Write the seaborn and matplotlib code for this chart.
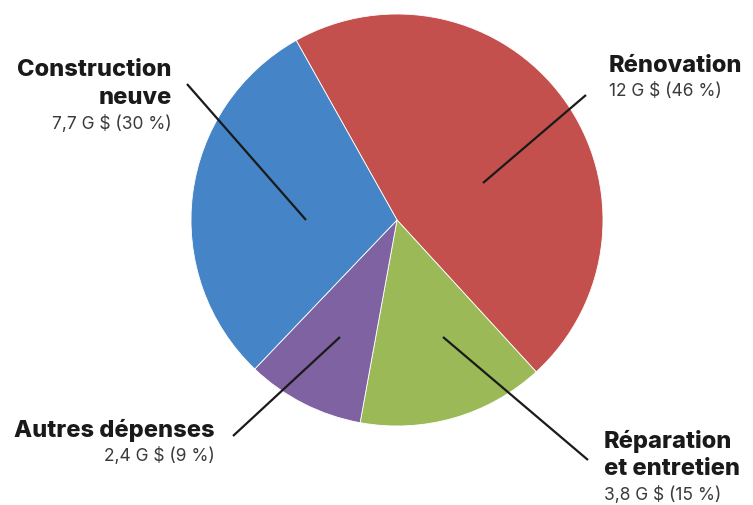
import matplotlib
matplotlib.use("Agg")
import seaborn as sns
from matplotlib import pyplot as plt

sns.set_theme(style="white")
plt.rcParams["font.family"] = ["Inter", "DejaVu Sans"]

# data
categories = ["Rénovation", "Réparation\net entretien", "Autres dépenses", "Construction\nneuve"]
values = [12.0, 3.8, 2.4, 7.7]
value_labels = ["12 G $ (46 %)", "3,8 G $ (15 %)", "2,4 G $ (9 %)", "7,7 G $ (30 %)"]
colors = ["#C4504D", "#9BB957", "#7F62A1", "#4584C6"]

H = 505
fig = plt.figure(figsize=(7.53, 5.05), dpi=100)
ax = fig.add_axes([0, 0, 1, 1])

ax.pie(values, colors=colors, startangle=119.3, counterclock=False,
       center=(397, H - 220), radius=206,
       wedgeprops={"linewidth": 0.6, "edgecolor": "white"})

# pie() resets the limits, so set them afterwards
ax.set_xlim(0, 753)
ax.set_ylim(0, H)
ax.set_aspect("equal")
ax.axis("off")

# label layout: (line inner point, line outer point, text anchor of first line, alignment)
layout = [
    ((483, 183), (586, 95), (609, 66), "left"),
    ((443, 337), (588, 460), (604, 441), "left"),
    ((340, 337), (233, 436), (215, 430), "right"),
    ((306, 220), (187, 84), (172, 70), "right"),
]

for cat, vlab, (p_in, p_out, p_txt, ha) in zip(categories, value_labels, layout):
    ax.plot([p_in[0], p_out[0]], [H - p_in[1], H - p_out[1]],
            color="#1a1a1a", lw=1.6, solid_capstyle="butt")
    lines = cat.split("\n")
    for i, line in enumerate(lines):
        ax.text(p_txt[0], H - (p_txt[1] + i * 28), line, ha=ha, va="center",
                fontsize=17, fontweight="heavy", color="#1a1a1a")
    y_sub = p_txt[1] + (len(lines) - 1) * 28 + 26
    ax.text(p_txt[0], H - y_sub, vlab, ha=ha, va="center", fontsize=12.5,
            color="#3a3a3a")

fig.savefig("out.png", dpi=100)
